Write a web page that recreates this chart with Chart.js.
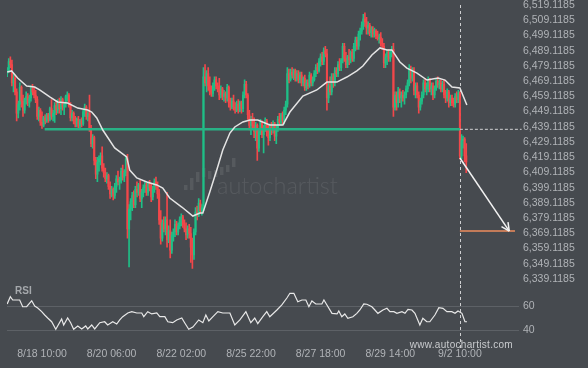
<!DOCTYPE html>
<html><head><meta charset="utf-8">
<script src="https://cdn.jsdelivr.net/npm/chart.js@4"></script>
<style>
html,body{margin:0;padding:0;background:#464a4f;width:588px;height:368px;overflow:hidden}
#wrap{position:relative;width:588px;height:368px}
canvas{position:absolute;left:0}
#c1{top:-10px}
#c2{top:280px}
</style></head><body>
<div id="wrap"><canvas id="c1" width="588" height="310"></canvas><canvas id="c2" width="588" height="88"></canvas></div>
<script>
// ---------- DATA ----------
const tickIdx = [22, 66, 110, 154, 198, 242, 286];
const tickLabels = ["8/18 10:00", "8/20 06:00", "8/22 02:00", "8/25 22:00", "8/27 18:00", "8/29 14:00", "9/2 10:00"];
const priceTicks = [6519.1185,6509.1185,6499.1185,6489.1185,6479.1185,6469.1185,6459.1185,6449.1185,6439.1185,6429.1185,6419.1185,6409.1185,6399.1185,6389.1185,6379.1185,6369.1185,6359.1185,6349.1185,6339.1185];
const rsiTicks = [60, 40];

const opens = [6474,6477,6482,6480,6468,6471,6462,6448,6454,6465,
6456,6450,6457,6459,6455,6458,6464,6462,6460,6457,
6446,6450,6442,6440,6445,6443,6447,6444,6451,6446,
6448,6453,6450,6456,6451,6457,6452,6454,6459,6460,
6453,6445,6448,6443,6441,6444,6440,6443,6441,6449,
6452,6446,6448,6438,6428,6432,6417,6408,6416,6418,
6420,6412,6409,6405,6407,6400,6395,6398,6394,6400,
6405,6403,6404,6410,6406,6409,6418,6372,6385,6390,
6394,6388,6398,6396,6401,6392,6396,6399,6401,6396,
6402,6399,6393,6398,6403,6400,6395,6378,6366,6376,
6372,6378,6365,6371,6358,6368,6370,6375,6370,6374,
6378,6380,6375,6372,6368,6372,6369,6360,6355,6370,
6383,6381,6389,6384,6386,6472,6468,6474,6466,6462,
6461,6466,6470,6466,6464,6460,6464,6459,6461,6458,
6465,6455,6452,6456,6452,6450,6454,6450,6455,6451,
6460,6467,6460,6447,6440,6444,6440,6436,6440,6425,
6436,6442,6434,6438,6443,6436,6432,6439,6437,6441,
6433,6438,6444,6442,6447,6443,6450,6454,6474,6470,
6475,6473,6476,6471,6474,6470,6473,6468,6471,6465,
6468,6466,6473,6468,6470,6474,6478,6476,6482,6485,
6482,6489,6487,6458,6466,6462,6472,6468,6476,6474,
6480,6478,6483,6492,6484,6480,6485,6483,6488,6484,
6492,6496,6492,6500,6502,6506,6510,6508,6504,6506,
6501,6503,6500,6502,6499,6497,6498,6494,6492,6481,
6485,6488,6484,6488,6490,6452,6460,6455,6462,6458,
6460,6458,6460,6464,6468,6477,6471,6476,6463,6466,
6460,6452,6456,6460,6468,6464,6466,6470,6464,6466,
6460,6464,6469,6467,6468,6464,6467,6460,6458,6462,
6455,6458,6455,6454,6459,6457,6461,6420,6430,6431,
6420];
const highs = [6478,6484,6485,6483,6474,6473,6464,6456,6468,6466,
6460,6458,6462,6461,6460,6466,6467,6465,6463,6459,
6452,6451,6449,6446,6447,6448,6448,6452,6457,6450,
6455,6456,6457,6458,6459,6458,6455,6460,6462,6461,
6455,6450,6449,6446,6445,6446,6444,6445,6450,6454,
6453,6450,6460,6440,6434,6433,6419,6419,6420,6422,
6426,6415,6412,6409,6408,6403,6400,6399,6402,6407,
6410,6406,6412,6414,6411,6420,6421,6388,6392,6396,
6397,6400,6403,6402,6404,6398,6401,6403,6402,6403,
6404,6402,6400,6405,6406,6403,6398,6384,6378,6380,
6380,6396,6374,6378,6370,6372,6378,6377,6376,6380,
6382,6381,6378,6376,6374,6375,6373,6366,6372,6386,
6387,6392,6391,6388,6478,6480,6476,6478,6472,6466,
6468,6472,6472,6468,6471,6466,6465,6463,6462,6467,
6466,6458,6458,6460,6455,6456,6457,6456,6456,6462,
6470,6469,6461,6450,6446,6448,6445,6442,6441,6438,
6444,6443,6440,6445,6444,6440,6441,6442,6443,6442,
6440,6446,6448,6448,6449,6452,6456,6478,6477,6477,
6478,6477,6477,6476,6476,6475,6475,6472,6473,6470,
6470,6475,6474,6472,6476,6480,6481,6484,6487,6488,
6491,6492,6490,6468,6472,6474,6474,6478,6478,6482,
6484,6484,6494,6494,6488,6486,6490,6489,6490,6494,
6498,6498,6502,6504,6508,6513,6514,6511,6508,6507,
6505,6505,6504,6503,6502,6500,6501,6497,6494,6487,
6490,6490,6490,6492,6494,6462,6462,6465,6464,6462,
6463,6462,6466,6470,6480,6479,6478,6478,6468,6468,
6462,6458,6462,6470,6471,6468,6472,6471,6468,6468,
6466,6471,6472,6470,6470,6469,6470,6463,6464,6463,
6460,6460,6458,6461,6462,6463,6462,6434,6433,6432,
6428];
const lows = [6472,6475,6478,6466,6462,6460,6443,6445,6450,6452,
6446,6448,6454,6453,6452,6456,6460,6458,6455,6444,
6443,6440,6438,6439,6441,6442,6442,6443,6444,6443,
6442,6447,6448,6448,6447,6450,6447,6452,6456,6452,
6443,6443,6441,6439,6439,6438,6438,6439,6440,6446,
6444,6443,6436,6426,6425,6414,6405,6403,6410,6414,
6410,6406,6403,6402,6398,6392,6393,6391,6392,6396,
6401,6398,6402,6404,6403,6407,6366,6347,6378,6384,
6386,6386,6393,6394,6390,6386,6393,6396,6394,6394,
6397,6390,6391,6396,6398,6392,6375,6362,6364,6370,
6368,6360,6363,6353,6356,6364,6367,6368,6368,6372,
6374,6373,6370,6365,6366,6366,6350,6346,6352,6368,
6378,6380,6382,6381,6384,6466,6462,6463,6460,6459,
6459,6463,6464,6462,6457,6458,6457,6456,6455,6456,
6452,6450,6451,6450,6448,6449,6448,6449,6448,6449,
6458,6458,6444,6437,6434,6438,6432,6430,6417,6423,
6434,6432,6422,6436,6433,6427,6430,6434,6435,6430,
6428,6436,6440,6440,6441,6441,6447,6452,6468,6469,
6471,6470,6469,6469,6468,6468,6466,6466,6463,6463,
6464,6465,6466,6466,6469,6472,6474,6475,6479,6480,
6480,6485,6450,6455,6460,6460,6465,6466,6472,6472,
6476,6476,6481,6482,6478,6478,6480,6481,6482,6482,
6489,6490,6490,6496,6500,6503,6505,6500,6500,6499,
6498,6498,6498,6497,6496,6494,6492,6490,6478,6478,
6480,6482,6482,6485,6446,6450,6450,6452,6455,6452,
6456,6454,6458,6462,6466,6468,6469,6460,6458,6458,
6448,6450,6454,6458,6462,6460,6462,6462,6460,6457,
6458,6463,6465,6464,6462,6462,6458,6455,6456,6452,
6453,6453,6452,6452,6455,6455,6418,6418,6425,6416,
6409];
const closes = [6477,6482,6480,6468,6471,6462,6448,6454,6465,6456,
6450,6457,6459,6455,6458,6464,6462,6460,6457,6446,
6450,6442,6440,6445,6443,6447,6444,6451,6446,6448,
6453,6450,6456,6451,6457,6452,6454,6459,6460,6453,
6445,6448,6443,6441,6444,6440,6443,6441,6449,6452,
6446,6448,6438,6428,6432,6417,6408,6416,6418,6420,
6412,6409,6405,6407,6400,6395,6398,6394,6400,6405,
6403,6404,6410,6406,6409,6418,6372,6385,6390,6394,
6388,6398,6396,6401,6392,6396,6399,6401,6396,6402,
6399,6393,6398,6403,6400,6395,6378,6366,6376,6372,
6378,6365,6371,6358,6368,6370,6375,6370,6374,6378,
6380,6375,6372,6368,6372,6369,6360,6355,6370,6383,
6381,6389,6384,6386,6472,6468,6474,6466,6462,6461,
6466,6470,6466,6464,6460,6464,6459,6461,6458,6465,
6455,6452,6456,6452,6450,6454,6450,6455,6451,6460,
6467,6460,6447,6440,6444,6440,6436,6440,6425,6436,
6442,6434,6438,6443,6436,6432,6439,6437,6441,6433,
6438,6444,6442,6447,6443,6450,6454,6474,6470,6475,
6473,6476,6471,6474,6470,6473,6468,6471,6465,6468,
6466,6473,6468,6470,6474,6478,6476,6482,6485,6482,
6489,6487,6458,6466,6462,6472,6468,6476,6474,6480,
6478,6483,6492,6484,6480,6485,6483,6488,6484,6492,
6496,6492,6500,6502,6506,6510,6508,6504,6506,6501,
6503,6500,6502,6499,6497,6498,6494,6492,6481,6485,
6488,6484,6488,6490,6452,6460,6455,6462,6458,6460,
6458,6460,6464,6468,6477,6471,6476,6463,6466,6460,
6452,6456,6460,6468,6464,6466,6470,6464,6466,6460,
6464,6469,6467,6468,6464,6467,6460,6458,6462,6455,
6458,6455,6454,6459,6457,6461,6420,6430,6431,6420,
6416];

// moving average (candle index, price)
const maIdx = [0,2.8,6.6,12.3,17.4,20.5,26.9,31.9,38.2,44.6,50.9,53.4,56.6,60.4,67.9,75.5,77.4,81.9,88.2,94.5,98.3,102.7,110.3,117.3,121.7,123.6,128,132.4,136.2,140.7,143.8,148.9,153.3,158.3,165.9,174.2,178.6,186.8,195.6,202,208.3,214.6,220.9,224.7,230.4,235.5,239.9,243,248.1,252.5,258.9,265.2,272.2,276.6,281,286,290.4];
const maVal = [6475.1,6475.8,6471.2,6465.9,6465.2,6463.3,6458.7,6455.4,6454.7,6451.4,6450.1,6448.8,6444.9,6437,6425.2,6419.3,6410.7,6405.5,6402.8,6400.9,6398.9,6392.3,6386.4,6380.5,6382.5,6382.5,6396.3,6410.7,6423.9,6435,6439,6442.3,6443.6,6443.6,6440.3,6440.3,6448.8,6459.3,6463.3,6468.5,6468.5,6471.8,6475.8,6479,6486.3,6490.9,6489.6,6489.6,6481.7,6477.7,6474.4,6469.8,6471.2,6469.8,6465.2,6464.6,6453.4];

// RSI (candle index, value)
const rsiIdx = [0,2,3.5,7.9,9.8,12.3,14.2,15.5,17.4,19.3,21.8,23.7,25.6,28.1,30.7,34.4,35.7,38.2,40.1,42,44.6,47.1,49.6,50.9,53.4,55.3,58.5,61.6,63.5,66.7,69.2,71.1,73,76.2,78.7,81.9,85,86.3,88.8,91.3,94.5,96.4,99.6,101.5,104.6,107.1,110.3,112.2,114.7,117.3,121,123.6,125.5,127.4,130,133.1,136.2,140.7,143.8,147,150.8,153.9,156.4,158.3,161.5,164,165.9,170.4,173.5,176.7,178.6,181.1,183.6,186.2,188.7,190.6,192.5,195,198.8,200.1,202,205.2,208.4,209.5,211.4,213.3,215.2,218.4,220.9,222.8,225.3,227.2,230.4,232.3,234.2,237.4,239.9,241.8,244.3,246.2,249.4,251.3,253.2,255.7,257.6,260.7,262.6,265.1,267,270.2,272.7,275.3,277.8,280.9,282.9,284.8,287.3,289.2,290.5];
const rsiVal = [62.1,68.2,65.4,65.4,59.8,59.8,62.9,64.8,60.4,58.8,55.7,52.9,50.4,47.3,41,49.6,44.6,50.4,46.5,41,43.8,41.3,43.8,41.3,44.6,41.3,46.5,47.3,44.6,47.3,45.4,48.8,51.5,54.6,55.7,54.6,54.6,51.5,55.7,53.8,54.6,51.5,51.5,47.3,46.5,48.8,50.4,46.3,41,42.9,48.8,46.5,52.9,47.9,51.5,55.7,54.6,54.6,44.6,48.8,55.7,46.5,50.4,45.8,51.5,55.7,51.5,57.1,61.3,67.1,71,71,64,65.4,65.4,59.8,64.6,62.1,62.1,65.4,61.3,54.3,53.8,56.3,51.5,53.8,50.2,51.5,54.3,57.1,62.1,61.9,59.8,57.1,54.3,57.1,58.5,55.7,55.7,54.3,55.7,54.3,57.6,57.1,54.3,44.6,50.2,47.3,47.3,52.9,59,58.5,55.7,55.7,54.3,56.3,54.3,47.3,47.3];

// pattern / forecast levels
const levelPrice = 6437.45, levelFromIdx = 23.7;
const signalIdx = 286;
const dashEndIdx = 325;
const arrowStartPrice = 6418.6, arrowEndIdx = 317.2;
const targetPrice = 6370.6, targetEndIdx = 320.8;

// ---------- STYLE ----------
const TOP_OFF = -10, BOT_OFF = 280;
const GREEN = '#1fbf87', RED = '#f2474a';
const TICK_COLOR = '#b0b3b7';
const FONT = '"Liberation Sans", Arial, sans-serif';
Chart.defaults.font.family = FONT;
Chart.defaults.animation = false;

const fmt = v => v.toLocaleString('en-US', {minimumFractionDigits: 4, maximumFractionDigits: 4});
const idx = opens.map((_, i) => i);
const candleColors = idx.map(i => closes[i] >= opens[i] ? GREEN : RED);

function calibrate(chart, axis, v1, p1, v2, p2) {
  const a = chart.chartArea;
  const s = (p2 - p1) / (v2 - v1);
  const o = chart.options.scales[axis];
  let e1, e2;
  if (axis === 'x') { e1 = v1 + (a.left - p1) / s; e2 = v1 + (a.right - p1) / s; }
  else { e1 = v1 + (a.top - p1) / s; e2 = v1 + (a.bottom - p1) / s; }
  o.min = Math.min(e1, e2); o.max = Math.max(e1, e2);
}

function vDash(c, fromY, toY) {
  const ctx = c.ctx;
  const x = Math.round(c.scales.x.getPixelForValue(signalIdx)) + 0.5;
  ctx.save();
  ctx.setLineDash([3, 3]);
  ctx.strokeStyle = '#cfd0d2';
  ctx.lineWidth = 1;
  ctx.beginPath(); ctx.moveTo(x, fromY); ctx.lineTo(x, toY); ctx.stroke();
  ctx.restore();
}

const topDecor = {
  id: 'topDecor',
  beforeDatasetsDraw(c) {
    const ctx = c.ctx;
    ctx.save();
    ctx.fillStyle = 'rgba(255,255,255,0.09)';
    const bars = [[184,185,190],[190,178,190],[196,172,182],[202,168,177],[208,171,179],[214,170,177],[220,167,175],[226,165,172],[232,158,167]];
    bars.forEach(b => { ctx.fillRect(b[0], b[1] - TOP_OFF, 3.5, b[2] - b[1]); });
    ctx.font = '300 22px Lato';
    const w = ctx.measureText('autochartist').width;
    ctx.font = '300 ' + (22 * 121 / w).toFixed(2) + 'px Lato';
    ctx.textBaseline = 'middle'; ctx.textAlign = 'left';
    ctx.fillText('autochartist', 217, 186 - TOP_OFF);
    ctx.restore();
    vDash(c, 5 - TOP_OFF, 285 - TOP_OFF);
  },
  afterDatasetsDraw(c) {
    const ds = c.data.datasets.findIndex(d => d.label === 'arrow');
    const m = c.getDatasetMeta(ds);
    const p0 = m.data[0], p1 = m.data[1];
    const ang = Math.atan2(p1.y - p0.y, p1.x - p0.x);
    const ctx = c.ctx;
    ctx.save();
    ctx.strokeStyle = '#f2f2f2'; ctx.lineWidth = 1.5;
    ctx.beginPath();
    [-0.45, 0.45].forEach(d => {
      ctx.moveTo(p1.x, p1.y);
      ctx.lineTo(p1.x - 9 * Math.cos(ang + d), p1.y - 9 * Math.sin(ang + d));
    });
    ctx.stroke();
    ctx.restore();
  }
};

const chart1 = new Chart(document.getElementById('c1'), {
  type: 'bar',
  data: {
    datasets: [
      { type: 'line', label: 'ma', order: 1, data: maIdx.map((x, i) => ({x, y: maVal[i]})),
        borderColor: '#e4e4e4', borderWidth: 1.5, pointRadius: 0, tension: 0 },
      { type: 'line', label: 'arrow', order: 1, data: [{x: signalIdx, y: arrowStartPrice}, {x: arrowEndIdx, y: targetPrice}],
        borderColor: '#f2f2f2', borderWidth: 1.5, pointRadius: 0, clip: false },
      { type: 'line', label: 'target', order: 2, data: [{x: signalIdx, y: targetPrice}, {x: targetEndIdx, y: targetPrice}],
        borderColor: '#ee8c5c', borderWidth: 1.5, pointRadius: 0, clip: false },
      { type: 'line', label: 'levelDash', order: 2, data: [{x: signalIdx, y: levelPrice}, {x: dashEndIdx, y: levelPrice}],
        borderColor: '#cfd0d2', borderWidth: 1, borderDash: [3, 2], pointRadius: 0, clip: false },
      { type: 'bar', label: 'bodies', order: 3, grouped: false, barThickness: 1.4,
        data: idx.map(i => ({x: i, y: [Math.min(opens[i], closes[i]), Math.max(opens[i], closes[i])]})),
        backgroundColor: candleColors },
      { type: 'bar', label: 'wicks', order: 4, grouped: false, barThickness: 1,
        data: idx.map(i => ({x: i, y: [lows[i], highs[i]]})),
        backgroundColor: candleColors },
      { type: 'line', label: 'level', order: 2.5, data: [{x: levelFromIdx, y: levelPrice}, {x: signalIdx, y: levelPrice}],
        borderColor: '#28b185', borderWidth: 2.5, pointRadius: 0 }
    ]
  },
  options: {
    responsive: false, devicePixelRatio: 1, events: [],
    layout: { padding: { left: 7, right: 0, top: 0, bottom: 0 } },
    plugins: { legend: { display: false }, tooltip: { enabled: false } },
    scales: {
      x: { type: 'linear', display: false, offset: false, min: -0.3, max: 323.3, grid: { offset: false } },
      y: { position: 'right', min: 6330, max: 6530,
        grid: { display: false, drawTicks: false }, border: { display: false },
        ticks: { color: TICK_COLOR, font: { size: 10.5 }, padding: 4, autoSkip: false, callback: v => fmt(v) },
        afterBuildTicks: s => { s.ticks = priceTicks.map(v => ({value: v})); },
        afterFit: s => { s.width = 69; } }
    }
  },
  plugins: [topDecor]
});
calibrate(chart1, 'x', tickIdx[0], 42, tickIdx[6], 459.9);
calibrate(chart1, 'y', priceTicks[0], 5 - TOP_OFF, priceTicks[18], 279 - TOP_OFF);
chart1.update('none');

const botDecor = {
  id: 'botDecor',
  beforeDatasetsDraw(c) {
    vDash(c, 285 - BOT_OFF, 350 - BOT_OFF);
  },
  afterDraw(c) {
    const ctx = c.ctx;
    ctx.save();
    ctx.fillStyle = '#a5a8ac';
    ctx.font = 'bold 10px ' + FONT;
    ctx.textBaseline = 'middle'; ctx.textAlign = 'left';
    ctx.fillText('RSI', 15, 291 - BOT_OFF);
    ctx.fillStyle = '#c9cbce';
    ctx.font = '10px ' + FONT;
    ctx.letterSpacing = '0.3px';
    ctx.textAlign = 'right';
    ctx.fillText('www.autochartist.com', 513, 345 - BOT_OFF);
    ctx.restore();
  }
};

const chart2 = new Chart(document.getElementById('c2'), {
  type: 'line',
  data: {
    datasets: [
      { label: 'RSI', data: rsiIdx.map((x, i) => ({x, y: rsiVal[i]})),
        borderColor: '#e8e8e8', borderWidth: 1.2, pointRadius: 0, tension: 0 }
    ]
  },
  options: {
    responsive: false, devicePixelRatio: 1, events: [],
    layout: { padding: { left: 7, right: 0, top: 0, bottom: 6 } },
    plugins: { legend: { display: false }, tooltip: { enabled: false } },
    scales: {
      x: { type: 'linear', offset: false, min: -0.3, max: 323.3,
        grid: { display: false, drawTicks: false }, border: { display: false },
        ticks: { color: TICK_COLOR, font: { size: 10.5 }, padding: 2, maxRotation: 0, autoSkip: false,
          callback: v => { const k = tickIdx.indexOf(v); return k >= 0 ? tickLabels[k] : ''; } },
        afterBuildTicks: s => { s.ticks = tickIdx.map(v => ({value: v})); } },
      y: { position: 'right', min: 27, max: 77,
        grid: { color: '#5d6166', lineWidth: 1, drawTicks: false }, border: { display: false },
        ticks: { color: TICK_COLOR, font: { size: 10.5 }, padding: 4, autoSkip: false },
        afterBuildTicks: s => { s.ticks = rsiTicks.map(v => ({value: v})); },
        afterFit: s => { s.width = 69; } }
    }
  },
  plugins: [botDecor]
});
calibrate(chart2, 'x', tickIdx[0], 42, tickIdx[6], 459.9);
calibrate(chart2, 'y', 60, 306.5 - BOT_OFF, 40, 330.5 - BOT_OFF);
chart2.update('none');
</script>
</body></html>
